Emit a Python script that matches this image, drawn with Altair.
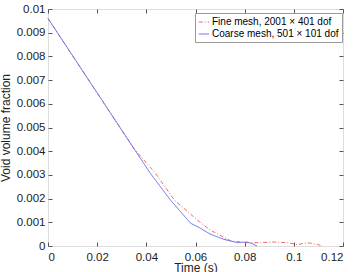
import altair as alt
import pandas as pd

fine_t = [0, 0.035, 0.0437, 0.0514, 0.0607, 0.066, 0.0743, 0.081,
          0.0865, 0.092, 0.0974, 0.1015, 0.1056, 0.1097, 0.1117]
fine_v = [0.0096, 0.0041, 0.00307, 0.00194, 0.0011, 0.00067, 0.00022, 0.00014,
          0.00014, 0.00017, 0.00014, 0.00006, 0.00014, 0.00006, 0.0]
coarse_t = [0, 0.0416, 0.0498, 0.058, 0.0613, 0.066, 0.0716, 0.077,
            0.081, 0.083, 0.085]
coarse_v = [0.0096, 0.00307, 0.00194, 0.00096, 0.00079, 0.0005, 0.00028, 0.00014,
            0.00017, 0.0001, 0.0]

series = ["Fine mesh, 2001 \u00d7 401 dof", "Coarse mesh, 501 \u00d7 101 dof"]
colors = ["#ee6a6a", "#6a6aee"]
dashes = [[4, 2, 1, 2], [1, 0]]

x_ticks = [0, 0.02, 0.04, 0.06, 0.08, 0.1, 0.12]
y_ticks = [0, 0.001, 0.002, 0.003, 0.004, 0.005, 0.006, 0.007, 0.008, 0.009, 0.01]

rows = []
for t, v in zip(fine_t, fine_v):
    rows.append({"t": t, "v": v, "s": series[0]})
for t, v in zip(coarse_t, coarse_v):
    rows.append({"t": t, "v": v, "s": series[1]})
df = pd.DataFrame(rows)

W, H = 295, 237
xs = alt.Scale(domain=[0, 0.12], nice=False, zero=False)
ys = alt.Scale(domain=[0, 0.01], nice=False, zero=False)

leg = alt.Legend(orient="none", legendX=147, legendY=4, title=None,
                 symbolType="stroke", symbolSize=110, symbolStrokeWidth=1,
                 labelFontSize=10, labelOffset=2, padding=3, rowPadding=1,
                 strokeColor="#9a9a9a", fillColor="white", labelLimit=300)

main = alt.Chart(df).mark_line(strokeWidth=1).encode(
    x=alt.X("t:Q", scale=xs, axis=alt.Axis(orient="bottom", values=x_ticks, format=".2~f",
                                            ticks=False, domain=False, grid=False,
                                            title="Time (s)", labelPadding=5, titlePadding=0)),
    y=alt.Y("v:Q", scale=ys, axis=alt.Axis(orient="left", values=y_ticks, format=".3~f",
                                            ticks=False, domain=False, grid=False,
                                            title="Void volume fraction", labelPadding=3,
                                            titlePadding=4)),
    color=alt.Color("s:N", scale=alt.Scale(domain=series, range=colors), legend=leg),
    strokeDash=alt.StrokeDash("s:N", scale=alt.Scale(domain=series, range=dashes), legend=leg),
    order="t:Q",
)

tick_ax = dict(labels=False, domain=False, grid=False, title=None, ticks=True,
               tickSize=4, tickColor="#555")

inner1 = alt.Chart(df).mark_point(opacity=0).encode(
    x=alt.X("t:Q", scale=xs, axis=alt.Axis(orient="top", offset=-H, values=x_ticks, **tick_ax)),
    y=alt.Y("v:Q", scale=ys, axis=alt.Axis(orient="right", offset=-W, values=y_ticks, **tick_ax)),
)
inner2 = alt.Chart(df).mark_point(opacity=0).encode(
    x=alt.X("t:Q", scale=xs, axis=alt.Axis(orient="bottom", offset=-H, values=x_ticks, **tick_ax)),
    y=alt.Y("v:Q", scale=ys, axis=alt.Axis(orient="left", offset=-W, values=y_ticks, **tick_ax)),
)

chart = alt.layer(main, inner1, inner2).resolve_axis(
    x="independent", y="independent"
).properties(
    width=W, height=H,
    autosize=alt.AutoSizeParams(type="none"),
    padding={"left": 48, "top": 9, "right": 10, "bottom": 26},
).configure_view(
    stroke="#555", strokeWidth=1
).configure(
    font="Liberation Sans", background="white"
).configure_axis(
    labelFontSize=11.5, titleFontSize=12, titleFontWeight="normal",
    labelColor="#222", titleColor="#222"
)

chart.save("out.html", embed_options={"renderer": "svg", "actions": False})
